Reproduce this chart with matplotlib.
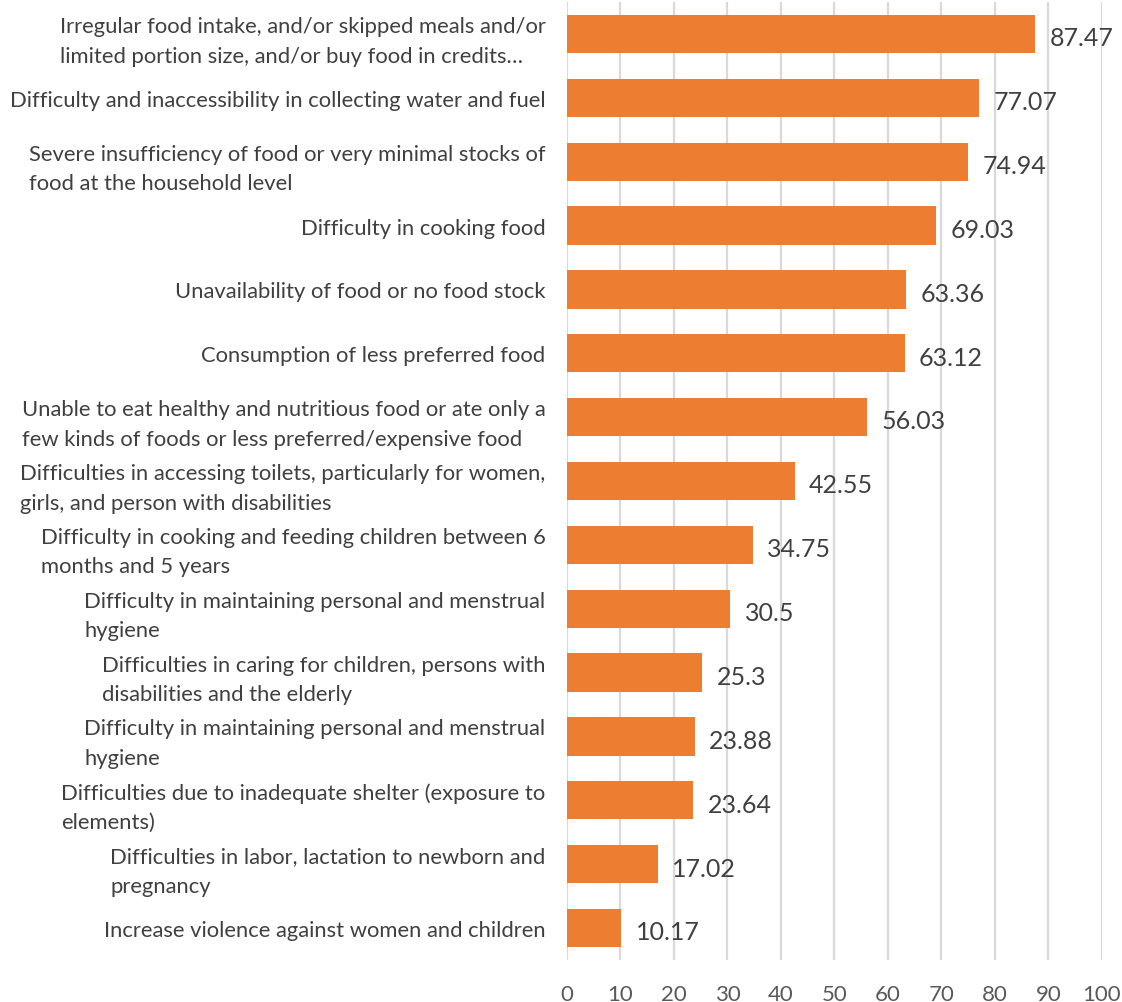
import matplotlib.pyplot as plt

# catégories (de haut en bas) et valeurs en %
categories = [
    "Irregular food intake, and/or skipped meals and/or\nlimited portion size, and/or buy food in credits\u2026",
    "Difficulty and inaccessibility in collecting water and fuel",
    "Severe insufficiency of food or very minimal stocks of\nfood at the household level",
    "Difficulty in cooking food",
    "Unavailability of food or no food stock",
    "Consumption of less preferred food",
    "Unable to eat healthy and nutritious food or ate only a\nfew kinds of foods or less preferred/expensive food",
    "Difficulties in accessing toilets, particularly for women,\ngirls, and person with disabilities",
    "Difficulty in cooking and feeding children between 6\nmonths and 5 years",
    "Difficulty in maintaining personal and menstrual\nhygiene",
    "Difficulties in caring for children, persons with\ndisabilities and the elderly",
    "Difficulty in maintaining personal and menstrual\nhygiene",
    "Difficulties due to inadequate shelter (exposure to\nelements)",
    "Difficulties in labor, lactation to newborn and\npregnancy",
    "Increase violence against women and children",
]
values = [87.47, 77.07, 74.94, 69.03, 63.36, 63.12, 56.03, 42.55,
          34.75, 30.5, 25.3, 23.88, 23.64, 17.02, 10.17]
value_labels = ["87.47", "77.07", "74.94", "69.03", "63.36", "63.12", "56.03",
                "42.55", "34.75", "30.5", "25.3", "23.88", "23.64", "17.02", "10.17"]
xticks = list(range(0, 101, 10))

plt.rcParams['font.family'] = ['Lato', 'DejaVu Sans']

fig = plt.figure(figsize=(11.22, 10.03), dpi=100)
ax = fig.add_axes([0.5053, 0.0419, 0.4768, 0.9551])

pos = list(range(len(categories)))
ax.barh(pos, values, height=0.6, color='#ED7D31', zorder=3)

for y, v, lab in zip(pos, values, value_labels):
    ax.text(v + 2.7, y + 0.06, lab, va='center', ha='left',
            fontsize=18, color='#404040', zorder=4)

ax.set_ylim(len(categories) - 0.5, -0.5)
ax.set_xlim(0, 100)
ax.set_yticks(pos)
ax.set_yticklabels(categories, fontsize=15.8, color='#404040',
                   linespacing=1.6, multialignment='left')
ax.set_xticks(xticks)
ax.set_xticklabels([str(t) for t in xticks], fontsize=16, color='#595959')
ax.tick_params(axis='y', length=0, pad=15.5)
ax.tick_params(axis='x', length=0, pad=17)
ax.grid(axis='x', color='#D9D9D9', linewidth=1.6, zorder=0)
for s in ax.spines.values():
    s.set_visible(False)

fig.savefig('out.png', dpi=100)
